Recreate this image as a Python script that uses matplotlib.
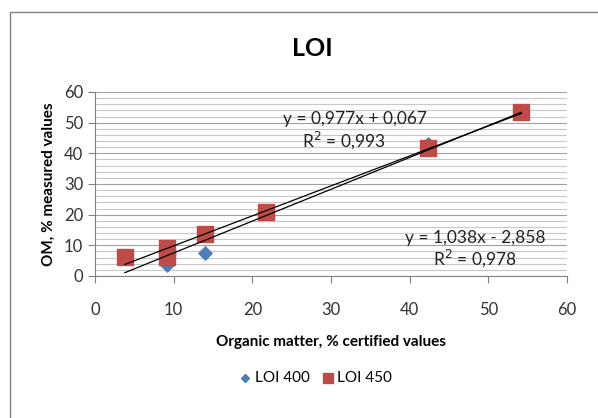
import matplotlib
matplotlib.use("Agg")
import matplotlib.pyplot as plt
import matplotlib.ticker as tck
import numpy as np

# data
loi400_x = [3.8, 9.2, 9.2, 14.0, 21.7, 42.3, 54.2]
loi400_y = [6.0, 3.5, 8.0, 7.5, 20.5, 43.0, 53.5]
loi450_x = [3.8, 9.2, 9.2, 14.0, 21.7, 42.3, 54.2]
loi450_y = [6.2, 9.0, 6.3, 13.6, 20.8, 41.8, 53.5]

# trend lines as printed on the chart
fit450 = (0.977, 0.067)
fit400 = (1.038, -2.858)

plt.rcParams["font.family"] = ["Lato", "DejaVu Sans"]

fig = plt.figure(figsize=(5.98, 4.18), dpi=100)
ax = fig.add_axes([95 / 598, 1 - 276 / 418, (567 - 95) / 598, (276 - 92) / 418])

ax.scatter(loi400_x, loi400_y, marker="D", s=45, color="#4a7ebb", zorder=3, label="LOI 400")
ax.scatter(loi450_x, loi450_y, marker="s", s=130, color="#be4b48", zorder=4, label="LOI 450")

xs = np.array([min(loi450_x), max(loi450_x)])
ax.plot(xs, fit450[0] * xs + fit450[1], color="black", lw=0.9, zorder=5)
ax.plot(xs, fit400[0] * xs + fit400[1], color="black", lw=0.9, zorder=5)

ax.text(33, 51.2, "y = 0,977x + 0,067", ha="center", va="center", fontsize=12.5, color="#222222")
ax.text(31.6, 44.3, "R$^2$ = 0,993", ha="center", va="center", fontsize=12.5, color="#222222")
ax.text(48.3, 12.4, "y = 1,038x - 2,858", ha="center", va="center", fontsize=12.5, color="#222222")
ax.text(48.3, 5.9, "R$^2$ = 0,978", ha="center", va="center", fontsize=12.5, color="#222222")

ax.set_xlim(0, 60)
ax.set_ylim(0, 60)
ax.xaxis.set_major_locator(tck.MultipleLocator(10))
ax.yaxis.set_major_locator(tck.MultipleLocator(10))
ax.yaxis.set_minor_locator(tck.MultipleLocator(2))
ax.yaxis.grid(True, which="major", color="#a0a0a0", lw=0.8)
ax.yaxis.grid(True, which="minor", color="#c8c8c8", lw=0.8)
ax.set_axisbelow(True)
for s in ["top", "right"]:
    ax.spines[s].set_visible(False)
for s in ["left", "bottom"]:
    ax.spines[s].set_color("#808080")
ax.tick_params(axis="both", which="major", direction="out", length=5, color="#808080",
               labelsize=12, labelcolor="#333333")
ax.tick_params(axis="y", which="minor", length=0)
ax.tick_params(axis="x", pad=14)

ax.set_xlabel("Organic matter, % certified values", fontsize=11, fontweight="bold", labelpad=12)
ax.set_ylabel("OM, % measured values", fontsize=11, fontweight="bold", labelpad=6)
fig.text(312 / 598, 1 - 48 / 418, "LOI", ha="center", va="center", fontsize=18, fontweight="bold")

fig.legend(loc="center", bbox_to_anchor=(314 / 598, 1 - 378 / 418), ncol=2, frameon=False,
           fontsize=11, handletextpad=0.0, columnspacing=0.6, markerscale=0.6, handlelength=1.2)

fig.patches.append(plt.Rectangle((10 / 598, -0.1), 1.2, 1 - 12 / 418 + 0.1, transform=fig.transFigure,
                                 fill=False, edgecolor="#808080", lw=1))

fig.savefig("out.png", dpi=100)
